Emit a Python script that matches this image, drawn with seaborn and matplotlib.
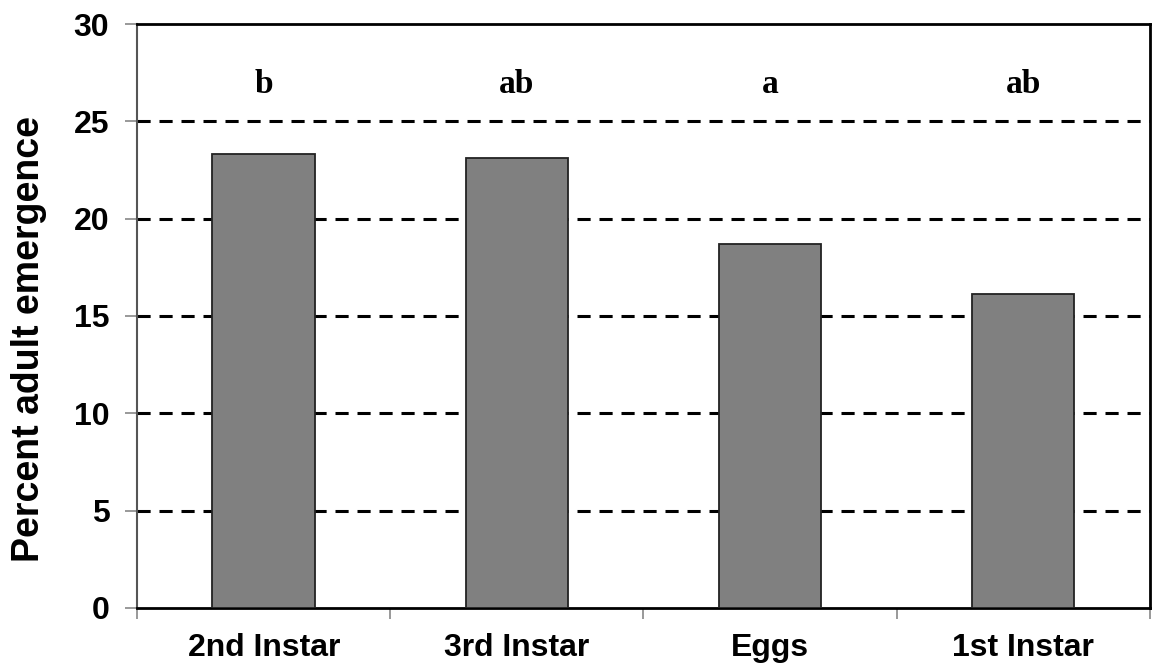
import matplotlib
matplotlib.use("Agg")
import matplotlib.pyplot as plt
import seaborn as sns
import pandas as pd

stages = ["2nd Instar", "3rd Instar", "Eggs", "1st Instar"]
emergence = [23.3, 23.1, 18.7, 16.15]
letters = ["b", "ab", "a", "ab"]
y_ticks = [0, 5, 10, 15, 20, 25, 30]

sns.set_theme(style="white")
plt.rcParams["font.family"] = ["Liberation Sans", "DejaVu Sans"]
plt.rcParams["text.color"] = "black"
plt.rcParams["xtick.color"] = "black"
plt.rcParams["ytick.color"] = "black"
plt.rcParams["axes.labelcolor"] = "black"

df = pd.DataFrame({"stage": stages, "emergence": emergence})

fig, ax = plt.subplots(figsize=(11.72, 6.68), dpi=100)
fig.subplots_adjust(left=0.117, right=0.981, top=0.964, bottom=0.09)

for y in y_ticks[1:-1]:
    ax.axhline(y, color="black", linestyle=(0, (4.3, 2.9)), linewidth=2.2, zorder=1)

sns.barplot(data=df, x="stage", y="emergence", color="#808080",
            width=0.405, edgecolor="#222222", linewidth=1.3,
            saturation=1, ax=ax, zorder=3)

for i, lab in enumerate(letters):
    ax.text(i, 26.9, lab, ha="center", va="center", fontsize=24,
            fontweight="bold", family=["Liberation Serif", "DejaVu Serif"])

ax.set_ylim(0, 30)
ax.set_xlim(-0.5, 3.5)
ax.set_yticks(y_ticks)
ax.set_yticklabels([str(t) for t in y_ticks], fontsize=23, fontweight="bold")
ax.set_xticks(range(len(stages)))
ax.set_xticklabels(stages, fontsize=23, fontweight="bold")
ax.tick_params(axis="x", length=0, pad=18)
ax.tick_params(axis="y", length=9, width=1.2, color="#888888", left=True, pad=11)
# category boundary ticks on the x axis
ax.set_xticks([-0.5, 0.5, 1.5, 2.5, 3.5], minor=True)
ax.tick_params(axis="x", which="minor", length=8, width=1.2, color="#888888", bottom=True)

ax.set_xlabel("")
ax.set_ylabel("Percent adult emergence", fontsize=27, fontweight="bold")
ax.yaxis.set_label_coords(-0.089, 0.46)

for side in ["top", "right", "bottom"]:
    ax.spines[side].set_color("black")
    ax.spines[side].set_linewidth(2)
ax.spines["left"].set_color("#555555")
ax.spines["left"].set_linewidth(1.5)

fig.savefig("out.png", dpi=100, facecolor="white")
